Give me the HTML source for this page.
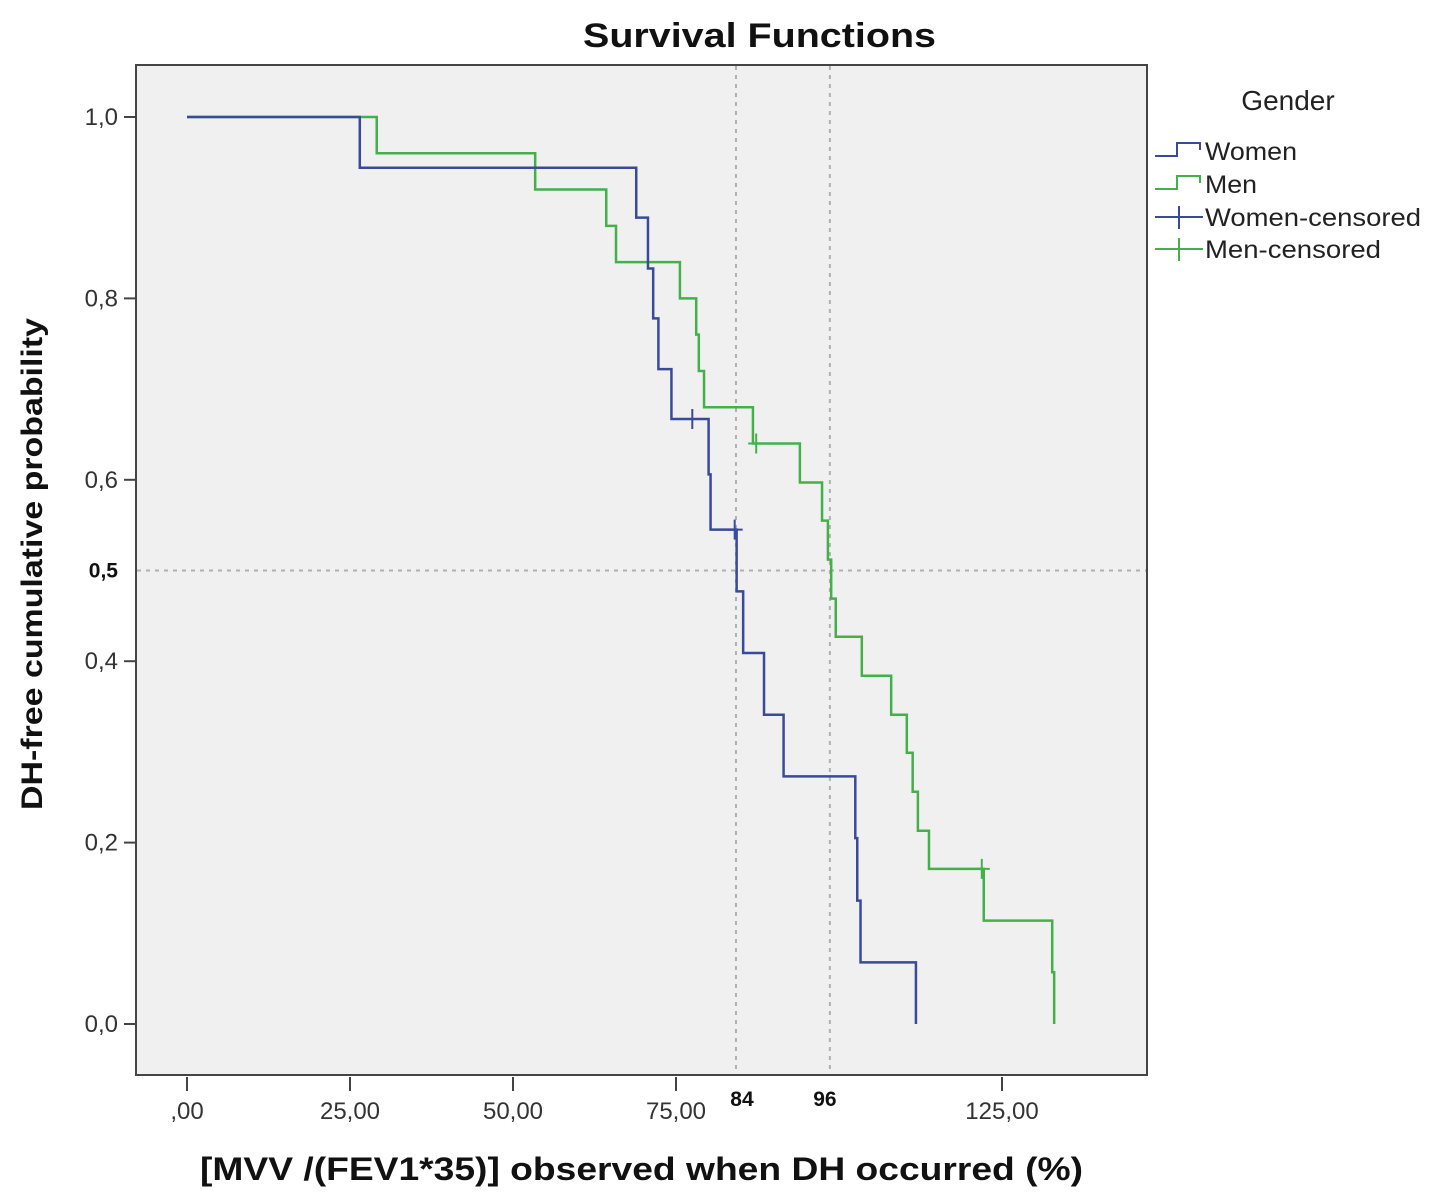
<!DOCTYPE html>
<html><head><meta charset="utf-8"><style>
html,body{margin:0;padding:0;background:#fff;}
svg{display:block;font-family:"Liberation Sans",sans-serif;}
</style></head><body>
<svg id="chart" width="1429" height="1198" viewBox="0 0 1429 1198">
<text x="583" y="47" textLength="353" lengthAdjust="spacingAndGlyphs" font-size="34" font-weight="bold" fill="#111">Survival Functions</text>
<rect x="136" y="65" width="1011" height="1010" fill="#f0f0f0" stroke="#444" stroke-width="2"/>
<g id="axes"></g>
<g id="series"></g>
<text x="1288" y="110" text-anchor="middle" font-size="28" fill="#222">Gender</text>
<g>
<path d="M1155,156 H1177 V143 H1200 V150" fill="none" stroke="#3a4a9a" stroke-width="2"/>
<text x="1205" y="160" font-size="25" fill="#222" textLength="92" lengthAdjust="spacingAndGlyphs">Women</text></g>
<g>
<path d="M1155,189 H1177 V176 H1200 V183" fill="none" stroke="#44b04a" stroke-width="2"/>
<text x="1205" y="193" font-size="25" fill="#222" textLength="52" lengthAdjust="spacingAndGlyphs">Men</text></g>
<g>
<path d="M1155,217 H1203 M1179,206 V229" stroke="#3a4a9a" stroke-width="2"/>
<text x="1205" y="226" font-size="25" fill="#222" textLength="216" lengthAdjust="spacingAndGlyphs">Women-censored</text></g>
<g>
<path d="M1155,249 H1203 M1179,238 V261" stroke="#44b04a" stroke-width="2"/>
<text x="1205" y="258" font-size="25" fill="#222" textLength="176" lengthAdjust="spacingAndGlyphs">Men-censored</text></g>
<text x="200" y="1180" textLength="883" lengthAdjust="spacingAndGlyphs" font-size="32" font-weight="bold" fill="#111">[MVV /(FEV1*35)] observed  when DH occurred (%)</text>
<text transform="translate(42,810) rotate(-90)" textLength="492" lengthAdjust="spacingAndGlyphs" font-size="30" font-weight="bold" fill="#111">DH-free cumulative probability</text>
</svg>
<script>
const xTicks=[0,25,50,75,125];
const xTickLabels=[",00","25,00","50,00","75,00","125,00"];
const yTicks=[0,0.2,0.4,0.6,0.8,1.0];
const yTickLabels=["0,0","0,2","0,4","0,6","0,8","1,0"];
const refX=[84.2,98.6];
const refXLabels=["84","96"];
const refY=[0.5];
const refYLabels=["0,5"];
const womenX=[0,26.5,68.9,70.7,71.5,72.3,74.3,80.0,80.3,84.3,85.3,88.5,91.5,102.5,102.8,103.3,111.8];
const womenY=[1,0.944,0.889,0.833,0.778,0.722,0.667,0.606,0.545,0.477,0.409,0.341,0.273,0.205,0.136,0.068,0];
const womenCensX=[77.5,84.0];
const womenCensY=[0.667,0.545];
const menX=[0,29.1,53.4,64.3,65.8,75.6,78.1,78.5,79.3,86.8,94.0,97.4,98.3,98.8,99.5,103.5,108.0,110.4,111.3,112.1,113.8,122.2,132.7,133.0];
const menY=[1,0.96,0.92,0.88,0.84,0.80,0.76,0.72,0.68,0.64,0.597,0.555,0.512,0.469,0.427,0.384,0.341,0.299,0.256,0.213,0.171,0.114,0.057,0];
const menCensX=[87.3,121.9];
const menCensY=[0.64,0.171];
const NS="http://www.w3.org/2000/svg";
const sx=v=>187+v*6.52;
const sy=v=>1024-v*907;
function mk(tag,attrs,parent){const e=document.createElementNS(NS,tag);for(const k in attrs)e.setAttribute(k,attrs[k]);parent.appendChild(e);return e;}
const axes=document.getElementById('axes'),ser=document.getElementById('series');
xTicks.forEach((t,i)=>{
 const l=mk('line',{x1:sx(t),x2:sx(t),y1:1077,y2:1091,stroke:'#444','stroke-width':2},axes);
 
 
 const tx=mk('text',{x:sx(t),y:1119,'text-anchor':'middle','font-size':24,fill:'#333'},axes);
 tx.textContent=xTickLabels[i];
 
 
});
yTicks.forEach((t,i)=>{
 const l=mk('line',{x1:124,x2:135,y1:sy(t),y2:sy(t),stroke:'#444','stroke-width':2},axes);
 
 
 const tx=mk('text',{x:118,y:sy(t)+8,'text-anchor':'end','font-size':24,fill:'#333'},axes);
 tx.textContent=yTickLabels[i];
 
 
});
refX.forEach((v,i)=>{
 const l=mk('line',{x1:sx(v),x2:sx(v),y1:66,y2:1074,stroke:'#b0b0b0','stroke-width':2,'stroke-dasharray':'4,5'},axes);
 
 
 const tx=mk('text',{x:sx(v)+(i?-5:6),y:1106,'text-anchor':'middle','font-size':21,'font-weight':'bold',fill:'#111'},axes);
 tx.textContent=refXLabels[i];
 
 
});
refY.forEach((v,i)=>{
 const l=mk('line',{x1:137,x2:1146,y1:sy(v),y2:sy(v),stroke:'#b0b0b0','stroke-width':2,'stroke-dasharray':'4,5'},axes);
 
 
 const tx=mk('text',{x:118,y:sy(v)+7,'text-anchor':'end','font-size':21,'font-weight':'bold',fill:'#111'},axes);
 tx.textContent=refYLabels[i];
 
 
});
function step(xs,ys,col,name){
 let d='M'+sx(xs[0])+','+sy(ys[0]);
 for(let i=1;i<xs.length;i++){d+=' H'+sx(xs[i])+' V'+sy(ys[i]);}
 const p=mk('path',{d:d,fill:'none',stroke:col,'stroke-width':2.5},ser);
 
 
}
function cens(xs,ys,col,name){
 xs.forEach((x,i)=>{
  const p=mk('path',{d:`M${sx(x)-8},${sy(ys[i])} H${sx(x)+8} M${sx(x)},${sy(ys[i])-10} V${sy(ys[i])+10}`,stroke:col,'stroke-width':2},ser);
  
  
 });
}
step(menX,menY,'#44b04a','men-survival-line');
step(womenX,womenY,'#3a4a9a','women-survival-line');
cens(menCensX,menCensY,'#44b04a','men-censored-mark');
cens(womenCensX,womenCensY,'#3a4a9a','women-censored-mark');
</script>
</body></html>
